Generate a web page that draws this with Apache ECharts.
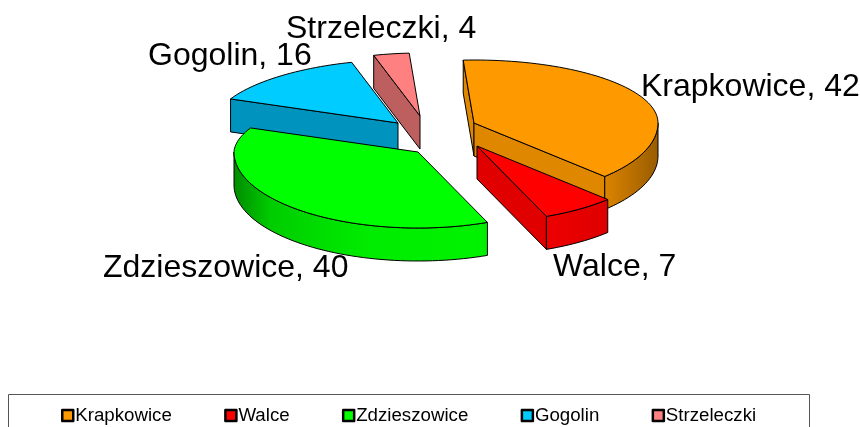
<!DOCTYPE html>
<html>
<head>
<meta charset="utf-8">
<style>html,body{margin:0;padding:0;background:#fff}#c{width:860px;height:427px}</style>
<script src="https://cdn.jsdelivr.net/npm/echarts@6/dist/echarts.min.js"></script>
</head>
<body>
<div id="c"></div>
<script>
// data
const categories = ['Krapkowice', 'Walce', 'Zdzieszowice', 'Gogolin', 'Strzeleczki'];
const values = [42, 7, 40, 16, 4];

// styles
const topColors = ['#FF9900', '#FF0000', '#00FF00', '#00CCFF', '#FF8080'];
const sideColors = ['#E08700', '#E00000', '#00E000', '#0093BD', '#BD5F5F'];
// layout: where each exploded slice has its tip, and where its label sits
const sliceTips = [[474, 123], [477, 146], [418, 152], [398, 123], [420, 116]];
const labelAnchors = [[641, 87], [553, 267], [103, 268], [148, 56], [286, 29]];
const paintOrder = [4, 3, 0, 1, 2];
const startAngle = -4, radiusX = 184, radiusBack = 63, radiusFront = 76, depth = 33, backLeftPinch = 0.16, backLeftLift = 11.5;
const shadeTable = [[-1, .55], [-.8, .8], [-.3, .92], [.3, .95], [.7, .87], [1, .6]];

const total = values.reduce((a, b) => a + b, 0);
const rad = d => d * Math.PI / 180;
function rim(tip, deg, dy) {
  const c = Math.cos(rad(deg)), s = Math.sin(rad(deg));
  const backLeft = s < 0 && c > 0;
  const pinch = backLeft ? 1 - backLeftPinch * Math.pow(c, 1.5) : 1;
  const ry = c > 0 ? radiusBack + (backLeft ? backLeftLift * (1 - c) : 0) : radiusFront;
  return [tip[0] + radiusX * s * pinch, tip[1] - ry * c + (dy || 0)];
}
function arc(tip, a, b, dy) {
  const pts = [], n = Math.max(2, Math.ceil(Math.abs(b - a) / 2));
  for (let i = 0; i <= n; i++) pts.push(rim(tip, a + (b - a) * i / n, dy));
  return pts;
}
function shaded(hex, k) {
  const n = parseInt(hex.slice(1), 16);
  const f = v => Math.round(v * k);
  return 'rgb(' + f(n >> 16 & 255) + ',' + f(n >> 8 & 255) + ',' + f(n & 255) + ')';
}
const line = { stroke: '#000', lineWidth: 1, lineJoin: 'round' };

function renderSlice(idx, api) {
  const value = api.value(0);
  let before = 0;
  for (let i = 0; i < idx; i++) before += values[i];
  const a = startAngle + before / total * 360, b = a + value / total * 360;
  const tip = sliceTips[idx], children = [];
  const z2 = paintOrder.indexOf(idx) * 10;
  const add = (points, fill, z) => children.push({
    type: 'polygon', shape: { points }, z2: z2 + z,
    style: Object.assign({ fill }, line)
  });
  const face = deg => {
    const p = rim(tip, deg);
    add([tip, p, [p[0], p[1] + depth], [tip[0], tip[1] + depth]], sideColors[idx], 1);
  };
  if (rim(tip, a)[0] < tip[0]) face(a);
  if (rim(tip, b)[0] > tip[0]) face(b);
  const wa = Math.max(a, 90), wb = Math.min(b, 270);
  if (wb > wa) {
    const grad = new echarts.graphic.LinearGradient(
      tip[0] - radiusX, 0, tip[0] + radiusX, 0,
      shadeTable.map(r => ({ offset: (r[0] + 1) / 2, color: shaded(topColors[idx], r[1]) })), true);
    add(arc(tip, wa, wb, 0).concat(arc(tip, wb, wa, depth)), grad, 2);
  }
  add([tip].concat(arc(tip, a, b, 0)), topColors[idx], 3);
  children.push({
    type: 'text', z2: 1000,
    style: {
      x: labelAnchors[idx][0], y: labelAnchors[idx][1],
      text: categories[idx] + ', ' + value,
      fill: '#000', font: '32px "Liberation Sans", Arial, sans-serif',
      align: 'left', verticalAlign: 'middle'
    }
  });
  return { type: 'group', children };
}

const chart = echarts.init(document.getElementById('c'), null, { renderer: 'canvas' });
chart.setOption({
  animation: false,
  backgroundColor: '#fff',
  graphic: [{
    type: 'rect', silent: true, z: 0,
    shape: { x: 8.5, y: 394.5, width: 801, height: 60 },
    style: { fill: 'none', stroke: '#555', lineWidth: 1 }
  }],
  legend: {
    left: 61, top: 406, padding: 0, orient: 'horizontal',
    itemWidth: 11, itemHeight: 11, itemGap: 52.3, symbolKeepAspect: false,
    textStyle: { fontFamily: '"Liberation Sans", Arial, sans-serif', fontSize: 18.7, color: '#000', padding: [0, 0, 0, -3] },
    data: categories.map((name, i) => ({
      name, icon: 'rect',
      itemStyle: { color: topColors[i], borderColor: '#000', borderWidth: 2.5, borderJoin: 'round' }
    }))
  },
  series: paintOrder.map(i => ({
    type: 'custom', name: categories[i], coordinateSystem: 'none',
    itemStyle: { color: topColors[i] },
    data: [[values[i]]],
    renderItem: (params, api) => renderSlice(i, api)
  }))
});
</script>
</body>
</html>
